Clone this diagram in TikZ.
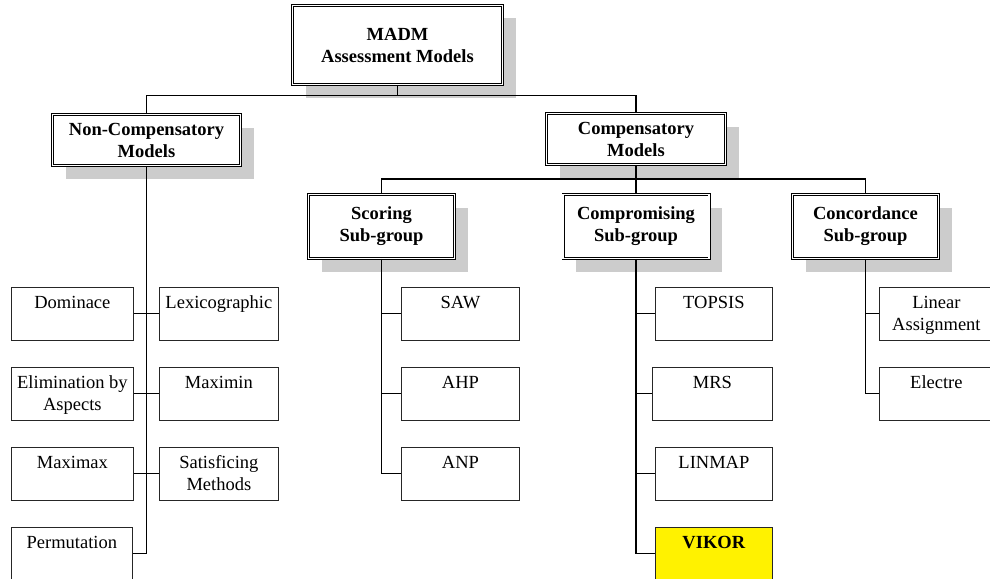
\documentclass[tikz,border=0pt]{standalone}
\usepackage{fontspec}
\setmainfont{Liberation Serif}
\usetikzlibrary{positioning,shadows}
\newcommand{\cell}[2][120pt]{\parbox[c][53pt][t]{#1}{\centering\rule{0pt}{21pt}#2}}
\tikzset{
  head/.style={draw,double,double distance=1.5pt,line width=0.75pt,fill=white,
    align=center,font=\fontsize{18.5}{22}\selectfont\bfseries,inner sep=0pt,
    drop shadow={shadow xshift=13pt,shadow yshift=-13pt,opacity=1,fill=gray!40}},
  leaf/.style={draw=black!85,line width=0.8pt,inner sep=0pt,anchor=north west,fill=white},
  link/.style={line width=1.1pt},
}
\begin{document}
\begin{tikzpicture}[x=1pt,y=-1pt,font=\fontsize{18.5}{22}\selectfont]
  \useasboundingbox (0,0) rectangle (990,578);
  \node[head,minimum width=210pt,minimum height=79pt] (madm) at (397.5,45) {MADM\\Assessment Models};
  \node[head,minimum width=188pt,minimum height=51pt] (noncomp) at (146.5,140) {Non-Compensatory\\Models};
  \node[head,minimum width=179pt,minimum height=51pt] (comp) at (636,139) {Compensatory\\Models};
  \node[head,minimum width=146pt,minimum height=64pt] (scor) at (381.5,226.5) {Scoring\\Sub-group};
  \node[head,minimum width=146pt,minimum height=64pt] (compr) at (636,226.5) {Compromising\\Sub-group};
  \node[head,minimum width=146pt,minimum height=64pt] (conc) at (865.5,226.5) {Concordance\\Sub-group};
  % method boxes
  \foreach \nm/\x/\y/\w/\txt in {dom/11/287/122/Dominace, lex/159/287/119/Lexicographic,
      elim/11/367/122/{Elimination by\\Aspects}, maxmin/159/367/119/Maximin,
      maxmax/11/447/122/Maximax, satis/159/447/119/{Satisficing\\Methods},
      perm/11/527/121/Permutation,
      saw/401/287/118/SAW, ahp/401/367/118/AHP, anp/401/447/118/ANP,
      topsis/655/287/117/TOPSIS, mrs/652/367/120/MRS, linmap/655/447/117/LINMAP,
      lina/879/287/114/{Linear\\Assignment}, electre/879/367/114/Electre}
    \node[leaf] (\nm) at (\x,\y) {\cell[\w pt]{\txt}};
  \node[leaf,fill=yellow] (vikor) at (655,527) {\cell[117pt]{\textbf{VIKOR}}};
  % connectors
  \draw[link] (madm.south) -- ++(0,11) coordinate (hubA);
  \draw[link] (noncomp.north) -- (noncomp.north |- hubA) -- (comp.north |- hubA) -- (comp.north);
  \draw[link] (comp.south) -- (compr.north);
  \draw[link] (scor.north) -- (scor.north |- 0,179) -- (conc.north |- 0,179) -- (conc.north);
  \draw[link] (noncomp.south) |- (perm.east);
  \foreach \a/\b in {dom/lex, elim/maxmin, maxmax/satis} \draw[link] (\a.east) -- (\b.west);
  \draw[link] (scor.south) |- (anp.west);
  \foreach \b in {saw,ahp} \draw[link] (scor.south |- \b.west) -- (\b.west);
  \draw[link] (compr.south) |- (vikor.west);
  \foreach \b in {topsis,mrs,linmap} \draw[link] (compr.south |- \b.west) -- (\b.west);
  \draw[link] (conc.south) |- (electre.west);
  \draw[link] (conc.south |- lina.west) -- (lina.west);
\end{tikzpicture}
\end{document}
